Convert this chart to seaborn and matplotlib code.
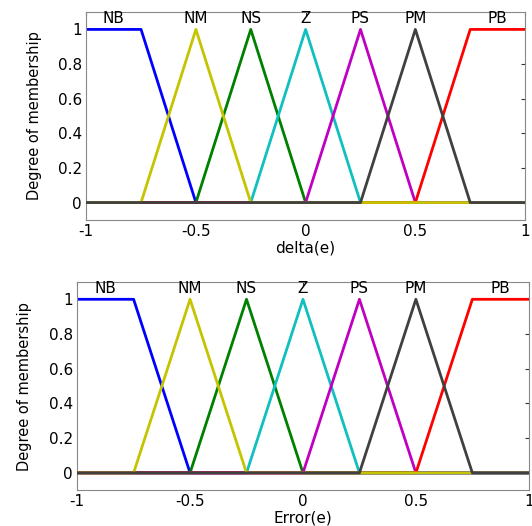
import numpy as np
import matplotlib
matplotlib.use("Agg")
import matplotlib.pyplot as plt
import seaborn as sns

# membership function names and breakpoints (x at y = 0, 1, 1, 0)
names = ["NB", "NM", "NS", "Z", "PS", "PM", "PB"]
left_feet = [-1.0, -0.75, -0.5, -0.25, 0.0, 0.25, 0.5]
left_peaks = [-1.0, -0.5, -0.25, 0.0, 0.25, 0.5, 0.75]
right_peaks = [-0.75, -0.5, -0.25, 0.0, 0.25, 0.5, 1.0]
right_feet = [-0.5, -0.25, 0.0, 0.25, 0.5, 0.75, 1.0]
label_x = [-0.875, -0.5, -0.25, 0.0, 0.25, 0.5, 0.875]
colors = ["#0000ff", "#c4c400", "#008000", "#10c0c0", "#c000c0", "#404040", "#ff0000"]
# drawing order, last on top (gives the mixed baseline colours)
draw_order = [0, 2, 3, 4, 6, 1, 5]
xlabels = ["delta(e)", "Error(e)"]

sns.set_style("white")
plt.rcParams["font.family"] = ["DejaVu Sans"]
plt.rcParams["text.color"] = "black"
plt.rcParams["axes.labelcolor"] = "black"
plt.rcParams["xtick.color"] = "black"
plt.rcParams["ytick.color"] = "black"

fig = plt.figure(figsize=(5.32, 5.26), dpi=100)
axes = [fig.add_axes([0.162, 0.582, 0.825, 0.395]),
        fig.add_axes([0.145, 0.068, 0.849, 0.396])]
ylabel_pads = [11, 12]

for ax, xl, lp in zip(axes, xlabels, ylabel_pads):
    for z, i in enumerate(draw_order):
        xs, ys = [], []
        if left_peaks[i] > -1:
            xs += [-1.0, left_feet[i]]
            ys += [0, 0]
        xs += [left_peaks[i], right_peaks[i]]
        ys += [1, 1]
        if right_peaks[i] < 1:
            xs += [right_feet[i], 1.0]
            ys += [0, 0]
        sns.lineplot(x=xs, y=ys, ax=ax, color=colors[i], linewidth=2,
                     sort=False, estimator=None, zorder=2 + z)
    for i in range(len(names)):
        ax.text(label_x[i], 1.035, names[i], ha="center", va="baseline", fontsize=11)
    ax.set_xlim(-1, 1)
    ax.set_ylim(-0.1, 1.1)
    ax.set_xticks([-1, -0.5, 0, 0.5, 1])
    ax.set_xticklabels(["-1", "-0.5", "0", "0.5", "1"])
    ax.set_yticks([0, 0.2, 0.4, 0.6, 0.8, 1])
    ax.set_yticklabels(["0", "0.2", "0.4", "0.6", "0.8", "1"])
    ax.tick_params(direction="in", top=True, right=True, length=3, labelsize=11,
                   color="#333333", pad=3)
    for s in ax.spines.values():
        s.set_color("#888888")
        s.set_linewidth(0.8)
    ax.set_xlabel(xl, fontsize=11, labelpad=1)
    ax.set_ylabel("Degree of membership", fontsize=10.5, labelpad=lp)

fig.savefig("out.png", dpi=100)
